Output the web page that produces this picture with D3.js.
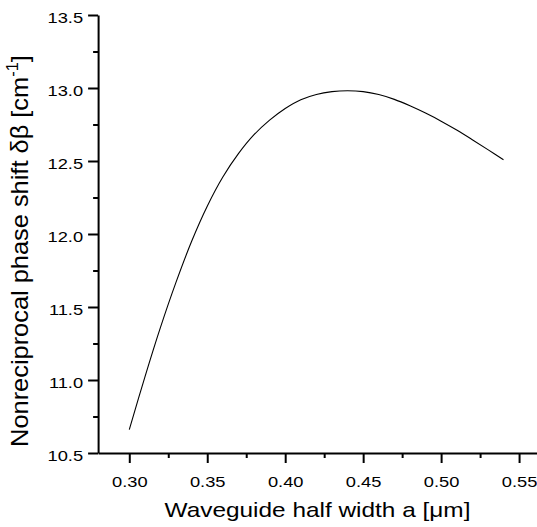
<!DOCTYPE html>
<html>
<head>
<meta charset="utf-8">
<script src="https://cdn.jsdelivr.net/npm/d3@7"></script>
<style>
  html, body { margin: 0; padding: 0; background: #fff; }
  svg { display: block; font-family: "Liberation Sans", Arial, sans-serif; }
</style>
</head>
<body>
<svg id="chart" width="537" height="527"></svg>
<script>
// ---- data ----
const widthA = [0.30, 0.31, 0.32, 0.33, 0.34, 0.35, 0.36, 0.37, 0.38, 0.39, 0.40, 0.41, 0.42,
                0.43, 0.44, 0.45, 0.46, 0.47, 0.48, 0.49, 0.50, 0.51, 0.52, 0.53, 0.54];
const phaseShift = [10.66, 11.02, 11.36, 11.67, 11.95, 12.19, 12.39, 12.55, 12.68, 12.78, 12.86, 12.92, 12.956,
                    12.975, 12.981, 12.975, 12.955, 12.922, 12.878, 12.828, 12.773, 12.712, 12.646, 12.578, 12.508];
const xTicks = [0.30, 0.35, 0.40, 0.45, 0.50, 0.55];
const xMinorTicks = [0.325, 0.375, 0.425, 0.475, 0.525];
const yTicks = [10.5, 11.0, 11.5, 12.0, 12.5, 13.0, 13.5];
const yMinorTicks = [10.75, 11.25, 11.75, 12.25, 12.75, 13.25];
const xTitle = "Waveguide half width a [\u03bcm]";
const yTitleMain = "Nonreciprocal phase shift \u03b4\u03b2 [cm";
const yTitleSup = "-1";
const yTitleEnd = "]";

// ---- layout ----
const svg = d3.select("#chart");
const x = d3.scaleLinear().domain([0.28, 0.5615]).range([98.1, 537]);
const y = d3.scaleLinear().domain([10.5, 13.5]).range([453, 15]);
const xAxisY = y(10.5), yAxisX = x(0.28);
const stretch = 1.18;

// minor ticks
svg.append("g").attr("transform", `translate(0,${xAxisY})`)
  .call(d3.axisBottom(x).tickValues(xMinorTicks).tickSize(5).tickFormat("").tickSizeOuter(0))
  .call(g => g.select(".domain").remove())
  .call(g => g.selectAll("line").attr("stroke", "#000").attr("stroke-width", 2));
svg.append("g").attr("transform", `translate(${yAxisX},0)`)
  .call(d3.axisLeft(y).tickValues(yMinorTicks).tickSize(5).tickFormat("").tickSizeOuter(0))
  .call(g => g.select(".domain").remove())
  .call(g => g.selectAll("line").attr("stroke", "#000").attr("stroke-width", 2));

// major x axis
const gx = svg.append("g").attr("transform", `translate(0,${xAxisY})`)
  .call(d3.axisBottom(x).tickValues(xTicks).tickSize(10).tickSizeOuter(0).tickFormat(d3.format(".2f")));
gx.select(".domain").attr("stroke", "#000").attr("stroke-width", 2);
gx.selectAll(".tick line").attr("stroke", "#000").attr("stroke-width", 2);
gx.selectAll(".tick text")
  .attr("fill", "#000").attr("font-size", 15.5).attr("font-family", "Liberation Sans, Arial, sans-serif")
  .attr("y", 0).attr("dy", 0)
  .attr("transform", `translate(0,33.5) scale(${stretch},1)`);

// major y axis
const gy = svg.append("g").attr("transform", `translate(${yAxisX},0)`)
  .call(d3.axisLeft(y).tickValues(yTicks).tickSize(10).tickSizeOuter(0).tickFormat(d3.format(".1f")));
gy.select(".domain").attr("stroke", "#000").attr("stroke-width", 2);
gy.selectAll(".tick line").attr("stroke", "#000").attr("stroke-width", 2);
gy.selectAll(".tick text")
  .attr("fill", "#000").attr("font-size", 15.5).attr("font-family", "Liberation Sans, Arial, sans-serif")
  .attr("x", 0).attr("dy", 0)
  .attr("transform", `translate(-15,7) scale(${stretch},1)`);

// curve
const line = d3.line().x((d, i) => x(widthA[i])).y(d => y(d)).curve(d3.curveCatmullRom.alpha(0.5));
svg.append("path").datum(phaseShift)
  .attr("d", line).attr("fill", "none").attr("stroke", "#000").attr("stroke-width", 1.1);

// axis titles
svg.append("text")
  .attr("transform", `translate(${(98 + 537) / 2},516.5) scale(1.22,1)`)
  .attr("text-anchor", "middle").attr("font-size", 20).attr("fill", "#000")
  .text(xTitle);

const yt = svg.append("text")
  .attr("transform", `translate(28,251) rotate(-90) scale(1.27,1.2)`)
  .attr("text-anchor", "middle").attr("font-size", 20).attr("fill", "#000");
yt.append("tspan").text(yTitleMain);
yt.append("tspan").attr("font-size", 13).attr("dy", -8).text(yTitleSup);
yt.append("tspan").attr("dy", 8).text(yTitleEnd);
</script>
</body>
</html>
